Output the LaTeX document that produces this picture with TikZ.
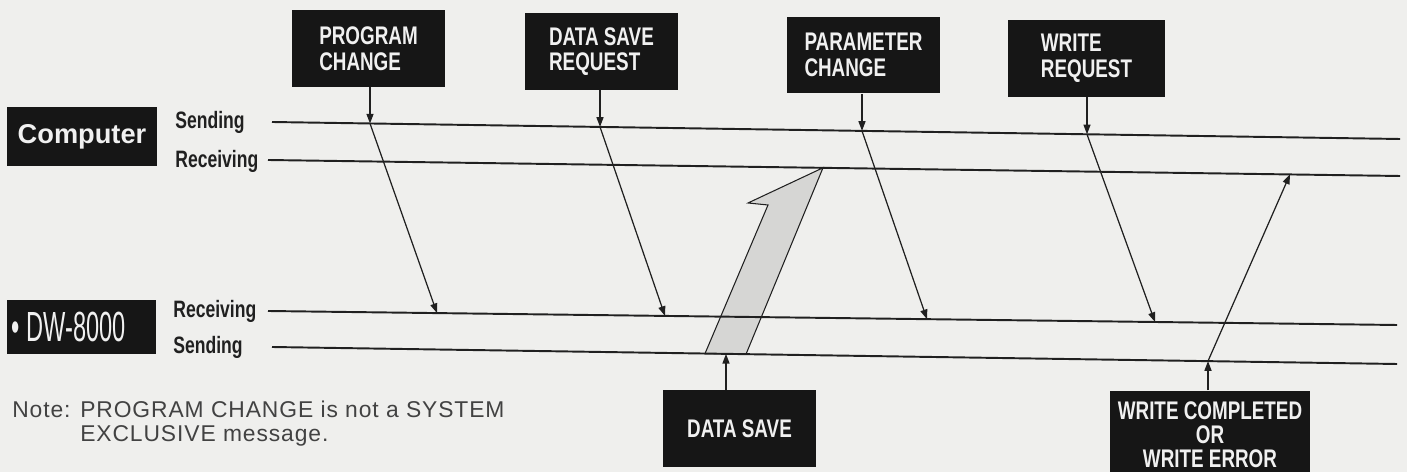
\documentclass[tikz,border=0pt]{standalone}
\usepackage{fontspec}
\setmainfont{Liberation Sans}
\newfontfamily\cnfont[FakeStretch=0.74]{Liberation Sans}
\newfontfamily\dwfont[FakeStretch=0.56]{Liberation Sans}
\newfontfamily\notefont[LetterSpace=4]{Liberation Sans}
\usetikzlibrary{arrows.meta}
\definecolor{paper}{RGB}{239,239,237}
\definecolor{ink}{RGB}{32,32,32}
\definecolor{platebk}{RGB}{22,22,22}
\definecolor{shade}{RGB}{214,214,212}

\begin{document}
\begin{tikzpicture}[x=0.02cm, y=-0.02cm,
    plate/.style={fill=platebk, text=white!94!black, inner sep=0pt, align=left,
        minimum width=3.08cm, minimum height=1.54cm,
        font=\cnfont\bfseries\fontsize{14.5}{14.6}\selectfont},
    tag/.style={text=ink, anchor=west, inner sep=0pt,
        font=\cnfont\bfseries\fontsize{13.5}{14}\selectfont},
    timeline/.style={ink, line width=1.1pt},
    msg/.style={ink, line width=0.7pt, -{Triangle[length=5.5pt,width=4pt]}}]

        % Paper and frame
        \useasboundingbox (0,0) rectangle (1407,472);
        \fill[paper] (0,0) rectangle (1407,472);

        % Device plates
        \node[fill=platebk, text=white!94!black, inner sep=0pt, minimum width=3cm, minimum height=1.18cm,
              font=\bfseries\fontsize{15.5}{17}\selectfont] (comp) at (82,136.5) {Computer};
        \node[fill=platebk, text=white!94!black, inner sep=0pt, minimum width=2.98cm, minimum height=1.08cm,
              text width=2.8cm, align=left, font=\dwfont\fontsize{24}{24}\selectfont] (dw) at (81.5,327)
            {•\,DW-8000};

        % Line labels
        \node[tag] (lbcs) at (175,122) {Sending};
        \node[tag] (lbcr) at (175,161) {Receiving};
        \node[tag] (lbdr) at (173,311) {Receiving};
        \node[tag] (lbds) at (173,347) {Sending};

        % End points of the four lines
        \coordinate (cs0) at (272,122);  \coordinate (cs1) at (1400,139);
        \coordinate (cr0) at (268,160);  \coordinate (cr1) at (1400,176);
        \coordinate (dr0) at (268,311);  \coordinate (dr1) at (1397,325);
        \coordinate (ds0) at (272,347);  \coordinate (ds1) at (1397,364);

        % Bulk dump, DW-8000 -> computer (under the lines)
        \filldraw[fill=shade, draw=ink, line width=0.6pt]
            (705,353.6) -- (768,205) -- (748,203) -- (823,167.8) -- (746,354.2) -- cycle;

        % Draw the lines
        \draw[timeline] (cs0) -- (cs1);
        \draw[timeline] (cr0) -- (cr1);
        \draw[timeline] (dr0) -- (dr1);
        \draw[timeline] (ds0) -- (ds1);

        % Points where messages leave and arrive
        \coordinate (pcs) at (370,123.5);   \coordinate (pcr) at (437,313.1);
        \coordinate (dsrs) at (600,126.9);  \coordinate (dsrr) at (665,315.9);
        \coordinate (pars) at (862,130.9);  \coordinate (parr) at (927,319.2);
        \coordinate (wrs) at (1087,134.3);  \coordinate (wrr) at (1155,322);
        \coordinate (wcs) at (1208,361.1);  \coordinate (wcr) at (1290,174.4);
        \coordinate (dss) at (726,353.9);

        % Message plates
        \node[plate] (pc) at (368.5,48.5) {PROGRAM\\CHANGE};
        \node[plate] (dsr) at (601.5,51.5) {DATA SAVE\\REQUEST};
        \node[plate] (par) at (863.5,55) {PARAMETER\\CHANGE};
        \node[plate, minimum width=3.14cm] (wr) at (1086.5,58.5) {WRITE\\REQUEST};
        \node[plate] (ds) at (739.5,428.5) {DATA SAVE};
        \node[plate, align=center, minimum width=4cm, minimum height=1.76cm,
              font=\cnfont\bfseries\fontsize{14.5}{13.8}\selectfont] (wc) at (1210,434.5)
            {WRITE COMPLETED\\OR\\WRITE ERROR};

        % Computer -> DW-8000
        \draw[msg] (pc.south -| pcs) -- (pcs);
        \draw[msg] (pcs) -- (pcr);
        \draw[msg] (dsr.south -| dsrs) -- (dsrs);
        \draw[msg] (dsrs) -- (dsrr);
        \draw[msg] (par.south -| pars) -- (pars);
        \draw[msg] (pars) -- (parr);
        \draw[msg] (wr.south -| wrs) -- (wrs);
        \draw[msg] (wrs) -- (wrr);

        % DW-8000 -> computer
        \draw[msg] (ds.north -| dss) -- (dss);
        \draw[msg] (wc.north -| wcs) -- (wcs);
        \draw[msg] (wcs) -- (wcr);

        % Footnote
        \node[anchor=base west, inner sep=0pt, align=left, text=ink!85,
              font=\notefont\fontsize{13}{14.2}\selectfont] (note) at (12,442)
            {Note: PROGRAM CHANGE is not a SYSTEM\\\hphantom{Note: }EXCLUSIVE message.};
\end{tikzpicture}
\end{document}
